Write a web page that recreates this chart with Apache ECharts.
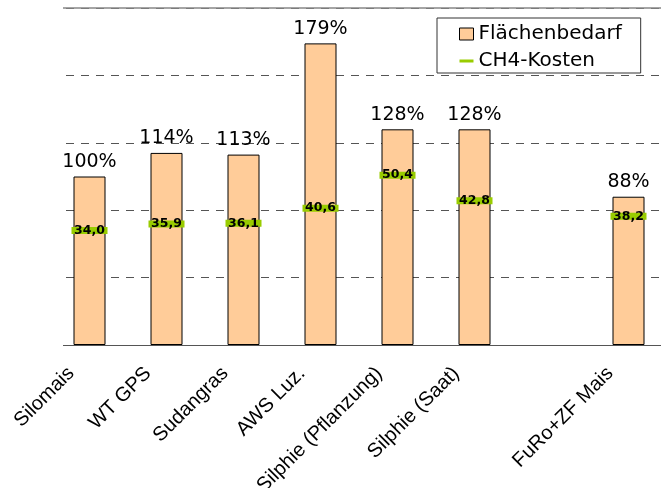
<!DOCTYPE html>
<html>
<head>
<meta charset="utf-8">
<script src="https://cdn.jsdelivr.net/npm/echarts@6/dist/echarts.min.js"></script>
<style>
  html, body { margin: 0; padding: 0; background: #fff; }
  #chart { width: 661px; height: 488px; }
</style>
</head>
<body>
<div id="chart"></div>
<script>
// Crops, relative area demand (% of Silomais) and methane cost per crop
const categories = ['Silomais', 'WT GPS', 'Sudangras', 'AWS Luz.', 'Silphie (Pflanzung)', 'Silphie (Saat)', '', 'FuRo+ZF Mais'];
const flaechenbedarf = [100, 114, 113, 179, 128, 128, null, 88];
const ch4Kosten = [34.0, 35.9, 36.1, 40.6, 50.4, 42.8, null, 38.2];
const seriesNames = ['Flächenbedarf', 'CH4-Kosten'];

const chart = echarts.init(document.getElementById('chart'));

chart.setOption({
  animation: false,
  backgroundColor: '#fff',
  grid: { left: 51, right: -6, top: 8, bottom: 143, containLabel: false, outerBoundsMode: 'none' },
  // plot frame begins a little right of the first category boundary
  graphic: [{
    type: 'rect',
    left: 0,
    top: 0,
    shape: { width: 63, height: 350 },
    style: { fill: '#fff' },
    z: 100
  }],
  legend: {
    orient: 'vertical',
    left: 437,
    top: 18,
    padding: [6, 19, 2, 22],
    itemGap: 7,
    itemWidth: 14,
    itemHeight: 12,
    borderColor: '#333',
    borderWidth: 1,
    textStyle: { fontFamily: 'DejaVu Sans', fontSize: 20, color: '#000' },
    data: [
      { name: seriesNames[0], icon: 'rect', itemStyle: { color: '#FFCC99', borderColor: '#000', borderWidth: 1 } },
      { name: seriesNames[1], icon: 'path://M0,0h14v3h-14z' }
    ]
  },
  xAxis: [
    {
      type: 'category',
      data: categories,
      position: 'bottom',
      axisLine: { lineStyle: { color: '#555', width: 1 } },
      axisTick: {
        length: 6,
        lineStyle: { color: '#555' },
        interval: function (index) { return index > 0; }
      },
      axisLabel: {
        interval: 0,
        rotate: 45,
        margin: 7,
        padding: [0, 26, 0, 0],
        fontFamily: 'Liberation Sans',
        fontSize: 20,
        color: '#000'
      }
    },
    {
      type: 'category',
      data: categories,
      position: 'top',
      axisLine: { show: true, onZero: false, lineStyle: { color: '#888', width: 1.5 } },
      axisTick: { show: false },
      axisLabel: { show: false },
      splitLine: { show: false }
    }
  ],
  yAxis: [
    {
      type: 'value',
      min: 0,
      max: 200,
      interval: 40,
      axisLabel: { show: false },
      axisLine: { show: false },
      axisTick: { show: false },
      splitLine: { show: true, lineStyle: { type: [8, 7], color: '#555', width: 1 } }
    },
    {
      type: 'value',
      min: 0,
      max: 100,
      show: false,
      splitLine: { show: false }
    }
  ],
  series: [
    {
      name: seriesNames[0],
      type: 'bar',
      data: flaechenbedarf,
      barWidth: 32,
      itemStyle: { color: '#FFCC99', borderColor: '#000', borderWidth: 1 },
      label: {
        show: true,
        position: 'top',
        distance: 5,
        fontFamily: 'DejaVu Sans',
        fontSize: 19,
        color: '#000',
        formatter: '{c}%'
      },
      z: 2
    },
    {
      name: seriesNames[1],
      type: 'scatter',
      yAxisIndex: 1,
      data: ch4Kosten,
      symbol: 'rect',
      symbolSize: [36, 7],
      itemStyle: { color: '#99CC00', opacity: 1 },
      label: {
        show: true,
        position: 'inside',
        fontFamily: 'DejaVu Sans',
        fontWeight: 'bold',
        fontSize: 12.5,
        color: '#000',
        formatter: function (p) { return p.value.toFixed(1).replace('.', ','); }
      },
      z: 3
    }
  ]
});
</script>
</body>
</html>
